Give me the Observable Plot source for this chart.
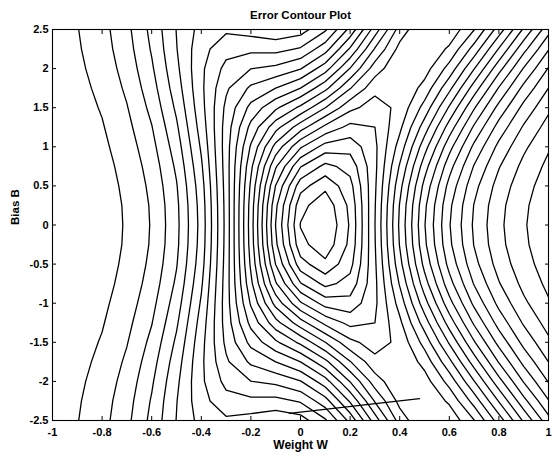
<!DOCTYPE html>
<html><head><meta charset="utf-8">
<script src="https://cdn.jsdelivr.net/npm/d3@7"></script>
<script src="https://cdn.jsdelivr.net/npm/@observablehq/plot@0.6"></script>
<style>html,body{margin:0;padding:0;background:#fff}</style>
</head><body>
<div id="chart"></div>
<script>
// Grid axes
const weights = [-1,-0.9,-0.8,-0.7,-0.6,-0.5,-0.4,-0.3,-0.2,-0.1,0,0.1,0.2,0.3,0.4,0.5,0.6,0.7,0.8,0.9,1];
const biases = [-2.5,-2.25,-2,-1.75,-1.5,-1.25,-1,-0.75,-0.5,-0.25,0,0.25,0.5,0.75,1,1.25,1.5,1.75,2,2.25,2.5];
// Sum-squared error at each weight (columns) for a given bias; the surface is symmetric in B
const errB250 = [3.939,3.903,3.846,3.757,3.630,3.486,3.376,3.338,3.358,3.384,3.361,3.254,3.053,2.791,2.549,2.420,2.440,2.581,2.787,3.008,3.212];
const errB225 = [3.943,3.909,3.854,3.769,3.645,3.492,3.352,3.273,3.261,3.268,3.232,3.111,2.902,2.659,2.475,2.426,2.517,2.700,2.920,3.134,3.319];
const errB200 = [3.950,3.917,3.866,3.785,3.665,3.507,3.340,3.217,3.161,3.138,3.082,2.948,2.745,2.542,2.433,2.465,2.615,2.827,3.048,3.248,3.412];
const errB175 = [3.956,3.927,3.879,3.803,3.688,3.528,3.341,3.173,3.062,2.995,2.913,2.771,2.589,2.447,2.423,2.531,2.726,2.952,3.166,3.347,3.489];
const errB150 = [3.963,3.936,3.893,3.822,3.713,3.555,3.352,3.141,2.970,2.846,2.729,2.585,2.443,2.379,2.442,2.615,2.841,3.069,3.269,3.431,3.553];
const errB125 = [3.969,3.945,3.906,3.841,3.739,3.584,3.371,3.124,2.888,2.696,2.537,2.398,2.312,2.337,2.483,2.707,2.950,3.173,3.357,3.499,3.604];
const errB100 = [3.973,3.953,3.917,3.859,3.762,3.612,3.395,3.118,2.820,2.554,2.349,2.221,2.204,2.319,2.536,2.797,3.048,3.261,3.429,3.554,3.644];
const errB075 = [3.977,3.959,3.927,3.873,3.783,3.638,3.419,3.120,2.768,2.430,2.179,2.067,2.121,2.317,2.592,2.876,3.128,3.330,3.483,3.594,3.673];
const errB050 = [3.980,3.963,3.934,3.883,3.798,3.659,3.440,3.126,2.733,2.334,2.042,1.947,2.063,2.324,2.639,2.938,3.187,3.380,3.522,3.623,3.693];
const errB025 = [3.981,3.965,3.938,3.890,3.808,3.672,3.453,3.131,2.712,2.273,1.953,1.871,2.029,2.332,2.671,2.977,3.224,3.410,3.545,3.639,3.705];
const errB000 = [3.982,3.966,3.939,3.892,3.811,3.676,3.458,3.133,2.706,2.252,1.922,1.844,2.018,2.336,2.682,2.990,3.236,3.420,3.552,3.645,3.709];
// rows ordered from B = -2.5 up to B = 2.5
const errorRows = [errB250,errB225,errB200,errB175,errB150,errB125,errB100,errB075,errB050,errB025,
                   errB000,
                   errB025,errB050,errB075,errB100,errB125,errB150,errB175,errB200,errB225,errB250];
const levelCount = 25;
// training trajectory (weight, bias)
const pathW = [-0.045, 0.48];
const pathB = [-2.41, -2.22];
// ticks
const xTicks = [-1,-0.8,-0.6,-0.4,-0.2,0,0.2,0.4,0.6,0.8,1];
const yTicks = [-2.5,-2,-1.5,-1,-0.5,0,0.5,1,1.5,2,2.5];
const titleText = "Error Contour Plot";
const xLabel = "Weight W";
const yLabel = "Bias B";

const values = errorRows.flat();
const zmin = d3.min(values), zmax = d3.max(values);
const thresholds = d3.range(1, levelCount + 1).map(k => zmin + k * (zmax - zmin) / (levelCount + 1));
const dw = (weights[1] - weights[0]) / 2, db = (biases[1] - biases[0]) / 2;
const path = pathW.map((w, i) => ({w, b: pathB[i]}));
const font = "Liberation Sans, Arial, Helvetica, sans-serif";

const chart = Plot.plot({
  width: 558, height: 460,
  marginLeft: 52, marginRight: 10, marginTop: 29, marginBottom: 40,
  style: {fontFamily: font, background: "#fff", color: "#000", overflow: "visible"},
  x: {domain: [-1, 1], label: null},
  y: {domain: [-2.5, 2.5], label: null},
  marks: [
    Plot.contour(values, {
      value: d => d,
      width: weights.length, height: biases.length,
      x1: weights[0] - dw, x2: weights[weights.length - 1] + dw,
      y1: biases[0] - db, y2: biases[biases.length - 1] + db,
      thresholds, fill: "none", stroke: "#000", strokeWidth: 1.3, clip: true
    }),
    Plot.line(path, {x: "w", y: "b", stroke: "#000", strokeWidth: 1.3, clip: true}),
    Plot.frame({stroke: "#000", strokeWidth: 1.1}),
    Plot.axisX(xTicks, {anchor: "bottom", tickSize: 0, tickPadding: 8, tickFormat: d => String(d), fontSize: 11, fontWeight: "bold", label: null}),
    Plot.axisX(xTicks, {anchor: "bottom", tickSize: -4, tickFormat: () => "", label: null}),
    Plot.axisX(xTicks, {anchor: "top", tickSize: -4, tickFormat: () => "", label: null}),
    Plot.axisY(yTicks, {anchor: "left", tickSize: 0, tickPadding: 4, tickFormat: d => String(d), fontSize: 11, fontWeight: "bold", label: null}),
    Plot.axisY(yTicks, {anchor: "left", tickSize: -4, tickFormat: () => "", label: null}),
    Plot.axisY(yTicks, {anchor: "right", tickSize: -4, tickFormat: () => "", label: null}),
    Plot.text([titleText], {text: d => d, frameAnchor: "top", dy: -19, fontSize: 11.5, fontWeight: "bold"}),
    Plot.text([xLabel], {text: d => d, frameAnchor: "bottom", dy: 28, fontSize: 12, fontWeight: "bold"}),
    Plot.text([yLabel], {text: d => d, frameAnchor: "left", dx: -37, rotate: -90, fontSize: 11.5, fontWeight: "bold"})
  ]
});
document.getElementById("chart").appendChild(chart);
</script>
</body></html>
